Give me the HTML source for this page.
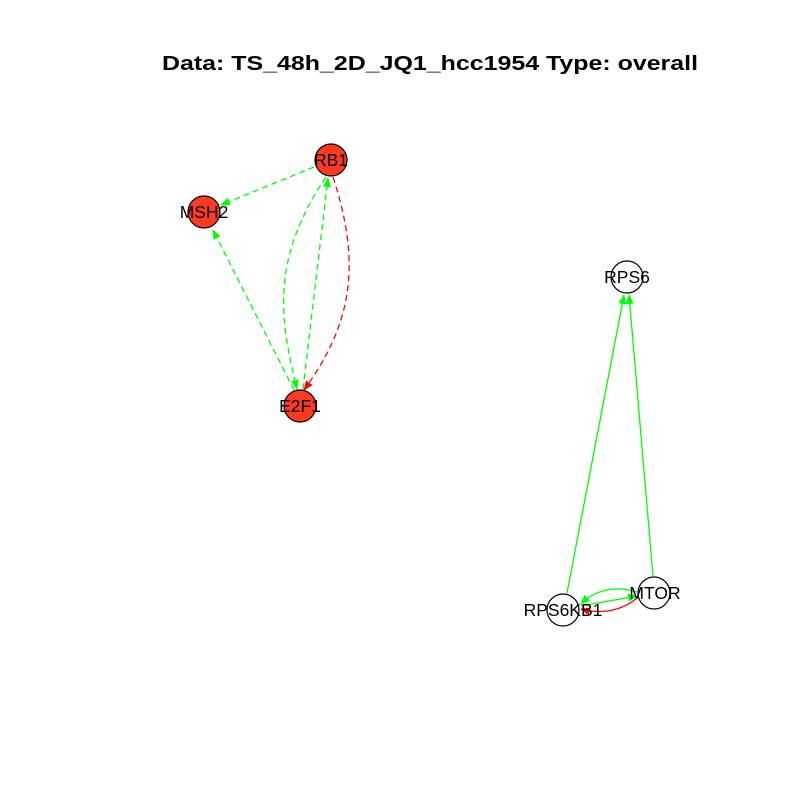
<!DOCTYPE html>
<html><head><style>body{margin:0;background:#fff}</style></head><body>
<svg width="800" height="800" xmlns="http://www.w3.org/2000/svg" font-family="Liberation Sans, sans-serif">
<defs>
<marker id="g" markerWidth="10" markerHeight="8" refX="9" refY="4" orient="auto" markerUnits="userSpaceOnUse"><path d="M0,0 L10,4 L0,8 Z" fill="#00ff00"/></marker>
<marker id="r" markerWidth="10" markerHeight="8" refX="9" refY="4" orient="auto" markerUnits="userSpaceOnUse"><path d="M0,0 L10,4 L0,8 Z" fill="#ff0000"/></marker>
</defs>
<text x="162" y="70" font-size="20" font-weight="bold" textLength="536" lengthAdjust="spacingAndGlyphs">Data: TS_48h_2D_JQ1_hcc1954 Type: overall</text>
<g fill="none" stroke-width="1.3" stroke-dasharray="6,4">
<path d="M314,167 L221,205" stroke="#00ff00" marker-end="url(#g)"/>
<path d="M294,390 L213,230" stroke="#00ff00" marker-end="url(#g)"/>
<path d="M303,389 L328,178" stroke="#00ff00" marker-end="url(#g)"/>
<path d="M326,177 C270,260 280,320 297,389" stroke="#00ff00" marker-end="url(#g)"/>
<path d="M333,177 C360,260 355,320 304,390" stroke="#ff0000" marker-end="url(#r)"/>
</g>
<g fill="none" stroke-width="1.3">
<path d="M567,593 L624,295" stroke="#00ff00" marker-end="url(#g)"/>
<path d="M653,576 L629,295" stroke="#00ff00" marker-end="url(#g)"/>
<path d="M581,606 L637,596" stroke="#00ff00" marker-end="url(#g)"/>
<path d="M637,592 C615,585 595,590 581,604" stroke="#00ff00" marker-end="url(#g)"/>
<path d="M637,598 C620,612 600,614 581,609" stroke="#ff0000" marker-end="url(#r)"/>
</g>
<g stroke="#000" stroke-width="1.2">
<circle cx="331" cy="160" r="16" fill="#ff3a20"/>
<circle cx="204" cy="212" r="16" fill="#ff3a20"/>
<circle cx="300" cy="406" r="16" fill="#ff3a20"/>
<circle cx="627" cy="277" r="16" fill="#fff"/>
<circle cx="563" cy="610" r="16" fill="#fff"/>
<circle cx="654" cy="593" r="16" fill="#fff"/>
</g>
<g font-size="17.5" text-anchor="middle" fill="#000">
<text x="331" y="166">RB1</text>
<text x="204" y="218">MSH2</text>
<text x="300" y="412">E2F1</text>
<text x="627" y="283">RPS6</text>
<text x="563" y="616">RPS6KB1</text>
<text x="655" y="599">MTOR</text>
</g>
</svg>
</body></html>
